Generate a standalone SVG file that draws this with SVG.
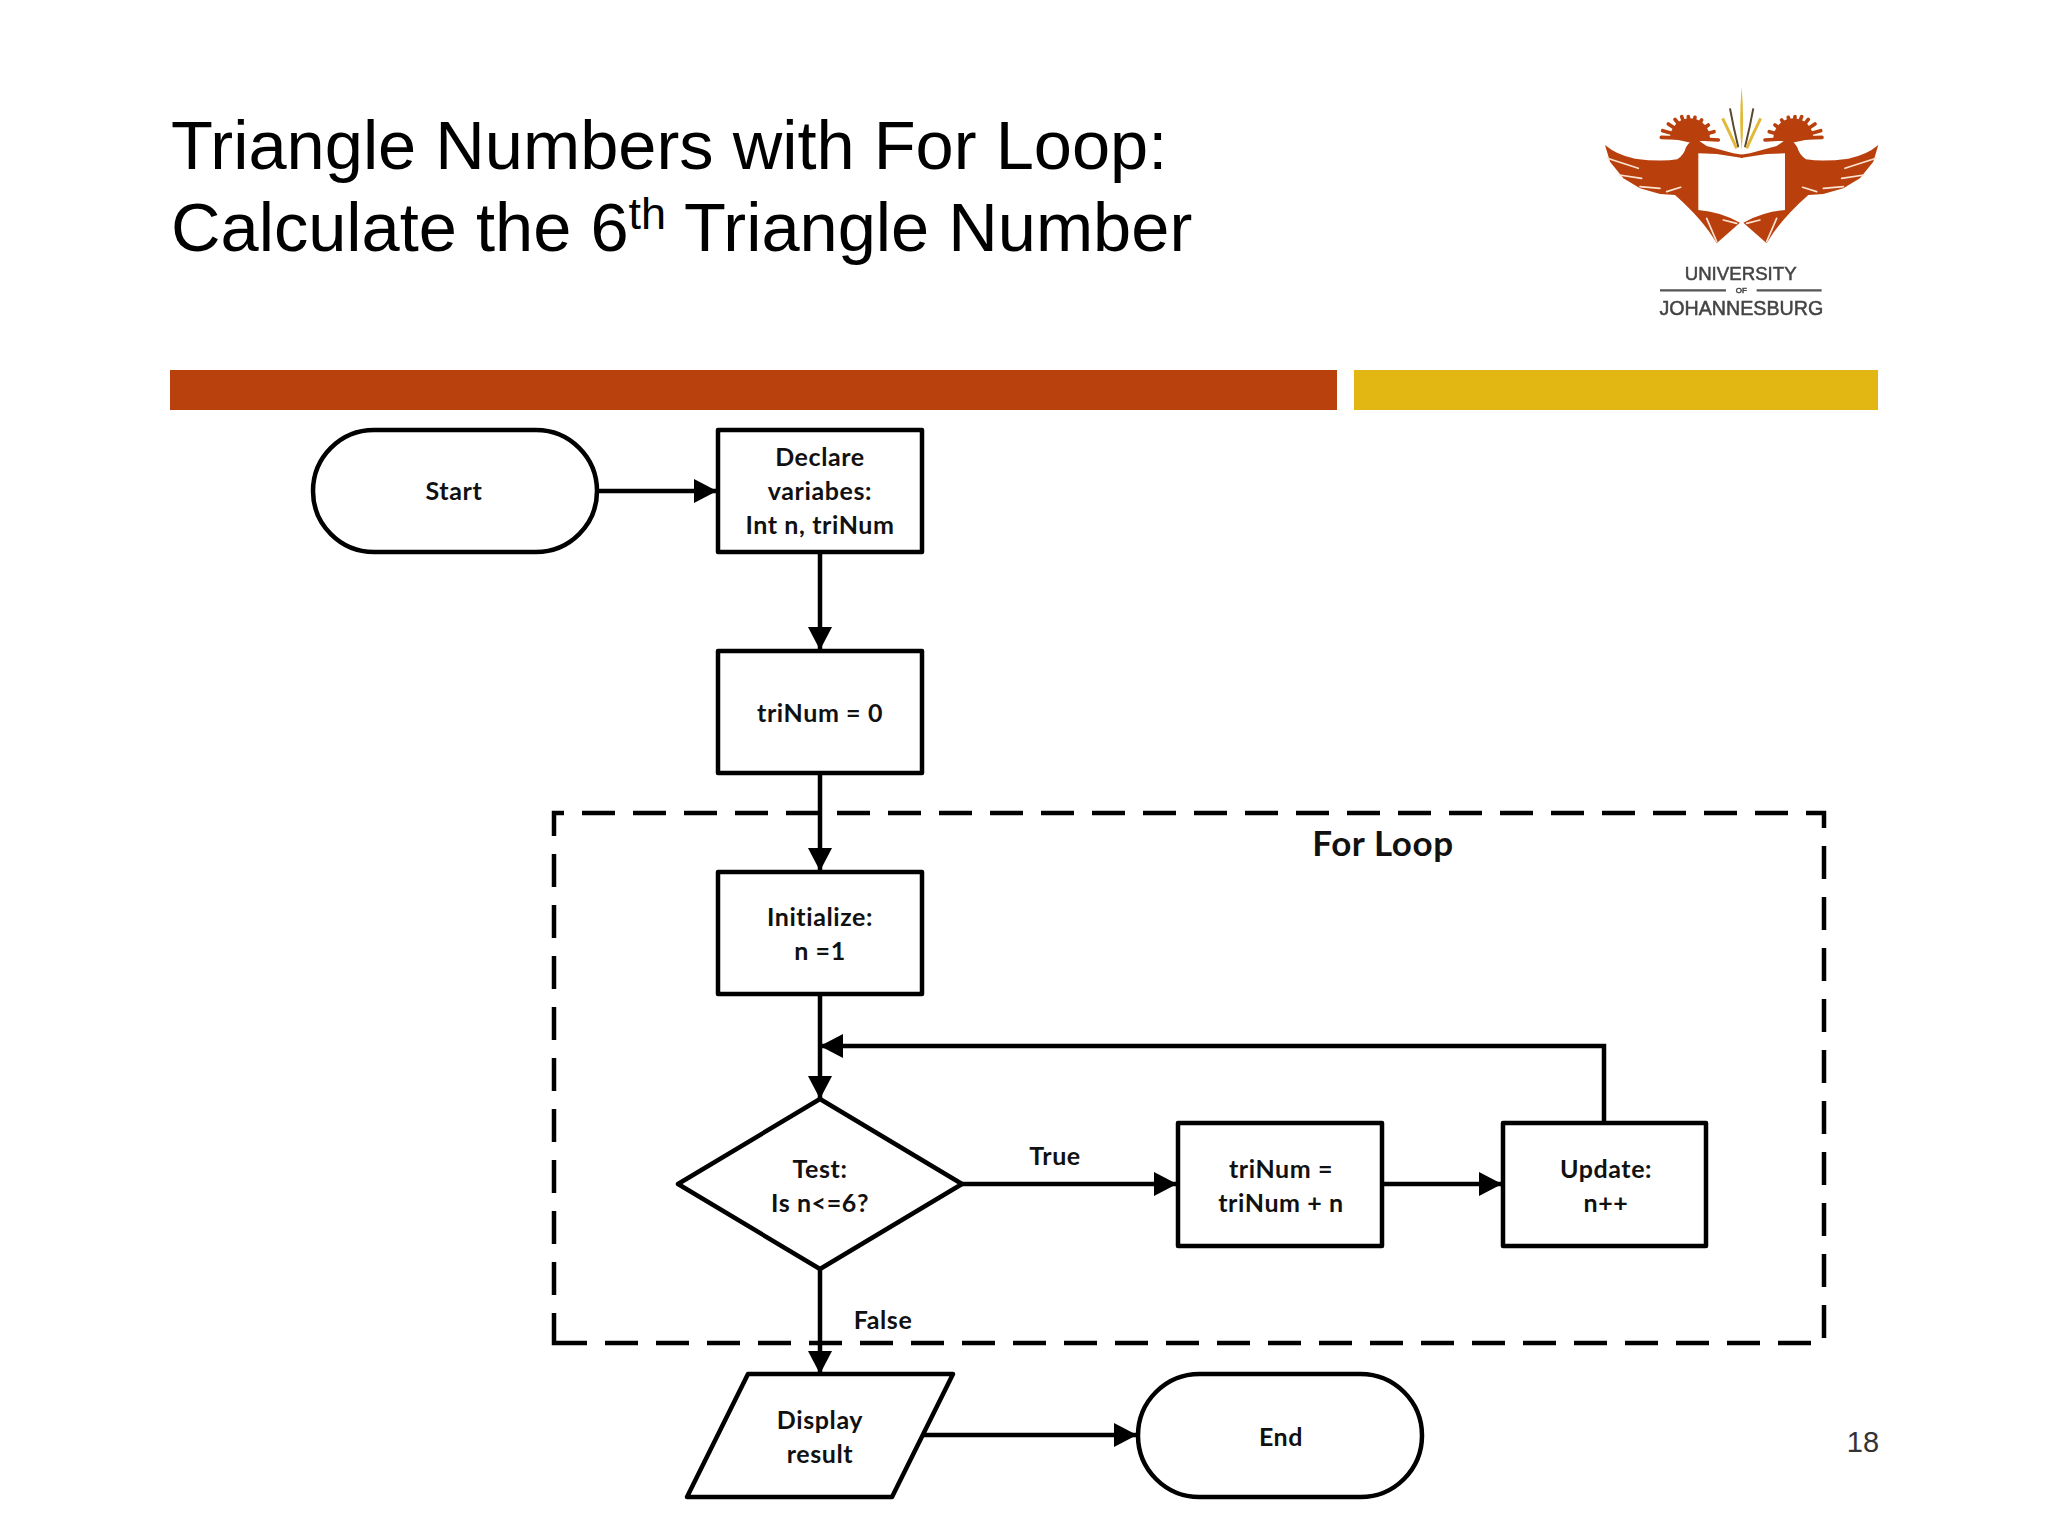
<svg xmlns="http://www.w3.org/2000/svg" xmlns:xlink="http://www.w3.org/1999/xlink" width="2048" height="1536" viewBox="0 0 2048 1536">
<style>
.s{fill:#fff;stroke:#000;stroke-width:4.5;stroke-linejoin:round}
.t{font-family:"Lato","Carlito","Liberation Sans",sans-serif;font-weight:700;font-size:25px;letter-spacing:.6px;fill:#111;text-anchor:middle}
.h{font-family:"Liberation Sans",Arial,sans-serif;font-size:68.6px;fill:#000}
.c{fill:none;stroke:#000;stroke-width:4.5}
.lg{font-family:"Liberation Sans",Arial,sans-serif;fill:#444;stroke:#444;stroke-width:1.5;text-anchor:middle}
</style>
<defs>
<marker id="a" markerUnits="userSpaceOnUse" markerWidth="26" markerHeight="26" refX="23" refY="12" orient="auto"><path d="M0 0L23 12L0 24Z" fill="#000"/></marker>
<filter id="soft" x="-5%" y="-5%" width="110%" height="110%"><feGaussianBlur stdDeviation="1.8"/></filter>
<g id="bird">
<path fill="#b9410f" d="M135 255Q170 285 225 296Q300 306 352 298Q372 285 378 262Q388 242 408 236L440 258L520 280L548 284L548 294L470 282L415 280L415 450Q480 455 540 488L470 550Q430 480 345 405L300 402L240 385L190 355L150 305Z"/>
<path fill="#b9410f" d="M330 235A60 60 0 0 1 450 235L400 250Z"/>
<g fill="none" stroke="#b9410f" stroke-width="11" stroke-linecap="round"><path d="M390 235L304 232M390 235L308 212M390 235L325 192M390 235L345 178M390 235L365 170M390 235L385 170M390 235L405 172M390 235L425 180M390 235L445 195M390 235L462 215M390 235L475 240"/></g>
<g fill="none" stroke="#fbe3d2" stroke-width="5" stroke-linecap="round"><path d="M142 295L235 325M178 345L245 355M240 380L300 385M320 395L362 382M440 475L470 545M490 480L530 490"/></g>
<path d="M510 145Q520 200 535 262" fill="none" stroke="#5a4a30" stroke-width="6"/>
<path d="M488 175Q510 220 530 265" fill="none" stroke="#e2b93a" stroke-width="9"/>
</g>
</defs>
<rect width="2048" height="1536" fill="#fff"/>
<g id="title">
<text class="h" x="171" y="169">Triangle Numbers with For Loop:</text>
<text class="h" x="171" y="251">Calculate the 6<tspan dy="-22" font-size="45">th</tspan><tspan dy="22"> Triangle Number</tspan></text>
</g>
<g id="bars">
<rect x="170" y="370" width="1167" height="40" fill="#b8410e"/>
<rect x="1354" y="370" width="524" height="40" fill="#e2b714"/>
</g>
<g id="logo" transform="translate(1560 60) scale(.3333)" filter="url(#soft)">
<use xlink:href="#bird" href="#bird"/>
<use xlink:href="#bird" href="#bird" transform="translate(1090 0) scale(-1 1)"/>
<path d="M545 80Q536 190 545 270Q554 190 545 80Z" fill="#e2b93a"/>
<path d="M300 691H498M590 691H785" stroke="#555" stroke-width="7"/>
<text class="lg" x="542" y="660" font-size="56">UNIVERSITY</text>
<text class="lg" x="544" y="700" font-size="24">OF</text>
<text class="lg" x="544" y="766" font-size="59">JOHANNESBURG</text>
</g>
<g id="connectors">
<path class="c" d="M597 491H717" marker-end="url(#a)"/>
<path class="c" d="M820 552V650" marker-end="url(#a)"/>
<path class="c" d="M820 773V871" marker-end="url(#a)"/>
<path class="c" d="M820 994V1099" marker-end="url(#a)"/>
<path class="c" d="M1604 1123V1046H820" marker-end="url(#a)"/>
<path class="c" d="M962 1184H1177" marker-end="url(#a)"/>
<path class="c" d="M1382 1184H1502" marker-end="url(#a)"/>
<path class="c" d="M820 1269V1374" marker-end="url(#a)"/>
<path class="c" d="M923 1435H1137" marker-end="url(#a)"/>
</g>
<g id="for-loop">
<path d="M554 1343H1824V813H554Z" fill="none" stroke="#000" stroke-width="4.5" stroke-dasharray="33 18"/>
<text class="t" x="1383" y="856" style="font-size:35px">For Loop</text>
</g>
<g id="start"><rect class="s" x="313" y="430" width="284" height="122" rx="61"/><text class="t" x="454" y="500">Start</text></g>
<g id="declare"><rect class="s" x="718" y="430" width="204" height="122"/><text class="t" x="820" y="466">Declare</text><text class="t" x="820" y="500">variabes:</text><text class="t" x="820" y="534">Int n, triNum</text></g>
<g id="init-trinum"><rect class="s" x="718" y="651" width="204" height="122"/><text class="t" x="820" y="722">triNum = 0</text></g>
<g id="initialize"><rect class="s" x="718" y="872" width="204" height="122"/><text class="t" x="820" y="926">Initialize:</text><text class="t" x="820" y="960">n =1</text></g>
<g id="test"><path class="s" d="M820 1099L962 1184L820 1269L678 1184Z"/><text class="t" x="820" y="1178">Test:</text><text class="t" x="820" y="1212">Is n&lt;=6?</text></g>
<g id="add"><rect class="s" x="1178" y="1123" width="204" height="123"/><text class="t" x="1281" y="1178">triNum =</text><text class="t" x="1281" y="1212">triNum + n</text></g>
<g id="update"><rect class="s" x="1503" y="1123" width="203" height="123"/><text class="t" x="1606" y="1178">Update:</text><text class="t" x="1606" y="1212">n++</text></g>
<g id="display"><path class="s" d="M748 1374H953L892 1497H687Z"/><text class="t" x="820" y="1429">Display</text><text class="t" x="820" y="1463">result</text></g>
<g id="end"><rect class="s" x="1138" y="1374" width="284" height="123" rx="61.5"/><text class="t" x="1281" y="1446">End</text></g>
<text class="t" x="1055" y="1165">True</text>
<text class="t" x="883" y="1329">False</text>
<text x="1863" y="1452" font-family="Liberation Sans, Arial, sans-serif" font-size="29" fill="#333" text-anchor="middle">18</text>
</svg>
